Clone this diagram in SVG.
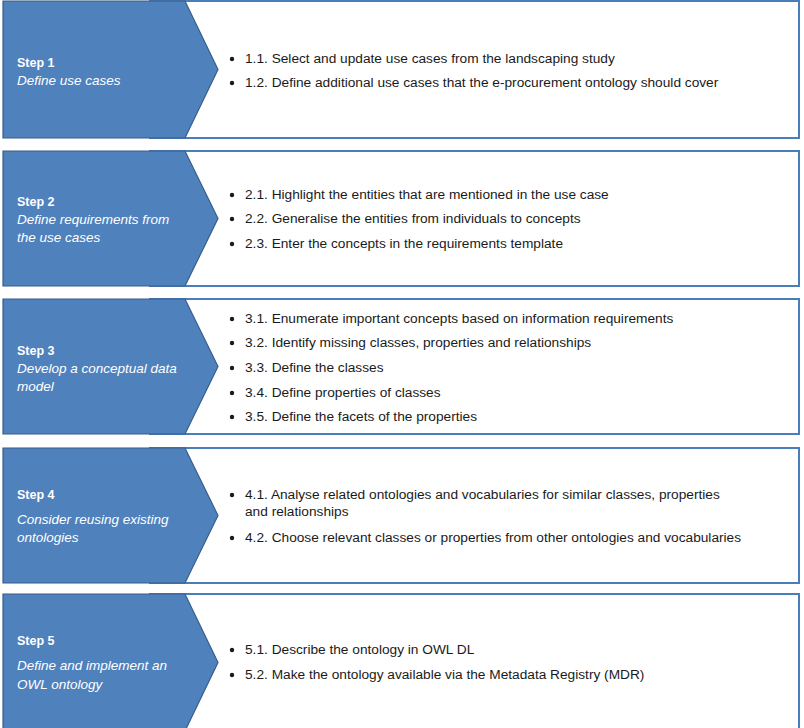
<svg xmlns="http://www.w3.org/2000/svg" width="804" height="728" viewBox="0 0 804 728">
<style>
.box{fill:#fff;stroke:#4a7ebb;stroke-width:2}
.chev{fill:#4f81bd;stroke:#385d8a;stroke-width:1.2}
.st{font-family:"Liberation Sans",Arial,sans-serif;font-size:12.5px;font-weight:bold;fill:#fff}
.it{font-family:"Liberation Sans",Arial,sans-serif;font-size:13.5px;font-style:italic;fill:#fff}
.tx{font-family:"Liberation Sans",Arial,sans-serif;font-size:13.7px;fill:#1a1a1a}
.bl{fill:#1a1a1a}
</style>
<rect width="804" height="728" fill="#fff"/>
<g id="step1">
<rect class="box" x="150" y="1" width="649" height="137"/>
<polygon class="chev" points="3,1 185,1 218,69.5 185,138 3,138"/>
<text class="st" x="17" y="67">Step 1</text>
<text class="it" x="17" y="85">Define use cases</text>
<circle class="bl" cx="232" cy="59" r="2.2"/>
<text class="tx" x="245" y="63">1.1. Select and update use cases from the landscaping study</text>
<circle class="bl" cx="232" cy="83" r="2.2"/>
<text class="tx" x="245" y="87">1.2. Define additional use cases that the e-procurement ontology should cover</text>
</g>
<g id="step2">
<rect class="box" x="150" y="151" width="649" height="135"/>
<polygon class="chev" points="3,151 185,151 218,218.5 185,286 3,286"/>
<text class="st" x="17" y="206">Step 2</text>
<text class="it" x="17" y="224">Define requirements from</text>
<text class="it" x="17" y="242">the use cases</text>
<circle class="bl" cx="232" cy="195" r="2.2"/>
<text class="tx" x="245" y="199">2.1. Highlight the entities that are mentioned in the use case</text>
<circle class="bl" cx="232" cy="219" r="2.2"/>
<text class="tx" x="245" y="223">2.2. Generalise the entities from individuals to concepts</text>
<circle class="bl" cx="232" cy="244" r="2.2"/>
<text class="tx" x="245" y="248">2.3. Enter the concepts in the requirements template</text>
</g>
<g id="step3">
<rect class="box" x="150" y="299" width="649" height="135"/>
<polygon class="chev" points="3,299 185,299 218,366.5 185,434 3,434"/>
<text class="st" x="17" y="355">Step 3</text>
<text class="it" x="17" y="373">Develop a conceptual data</text>
<text class="it" x="17" y="391">model</text>
<circle class="bl" cx="232" cy="319" r="2.2"/>
<text class="tx" x="245" y="323">3.1. Enumerate important concepts based on information requirements</text>
<circle class="bl" cx="232" cy="343" r="2.2"/>
<text class="tx" x="245" y="347">3.2. Identify missing classes, properties and relationships</text>
<circle class="bl" cx="232" cy="368" r="2.2"/>
<text class="tx" x="245" y="372">3.3. Define the classes</text>
<circle class="bl" cx="232" cy="393" r="2.2"/>
<text class="tx" x="245" y="397">3.4. Define properties of classes</text>
<circle class="bl" cx="232" cy="417" r="2.2"/>
<text class="tx" x="245" y="421">3.5. Define the facets of the properties</text>
</g>
<g id="step4">
<rect class="box" x="150" y="448" width="649" height="135"/>
<polygon class="chev" points="3,448 185,448 218,515.5 185,583 3,583"/>
<text class="st" x="17" y="499">Step 4</text>
<text class="it" x="17" y="524">Consider reusing existing</text>
<text class="it" x="17" y="542">ontologies</text>
<circle class="bl" cx="232" cy="495" r="2.2"/>
<text class="tx" x="245" y="499">4.1. Analyse related ontologies and vocabularies for similar classes, properties</text>
<text class="tx" x="245" y="516">and relationships</text>
<circle class="bl" cx="232" cy="538" r="2.2"/>
<text class="tx" x="245" y="542">4.2. Choose relevant classes or properties from other ontologies and vocabularies</text>
</g>
<g id="step5">
<rect class="box" x="150" y="594" width="649" height="137"/>
<polygon class="chev" points="3,594 185,594 218,662.5 185,731 3,731"/>
<text class="st" x="17" y="645">Step 5</text>
<text class="it" x="17" y="670">Define and implement an</text>
<text class="it" x="17" y="689">OWL ontology</text>
<circle class="bl" cx="232" cy="650" r="2.2"/>
<text class="tx" x="245" y="654">5.1. Describe the ontology in OWL DL</text>
<circle class="bl" cx="232" cy="675" r="2.2"/>
<text class="tx" x="245" y="679">5.2. Make the ontology available via the Metadata Registry (MDR)</text>
</g>
<g id="connectors"></g>
</svg>
